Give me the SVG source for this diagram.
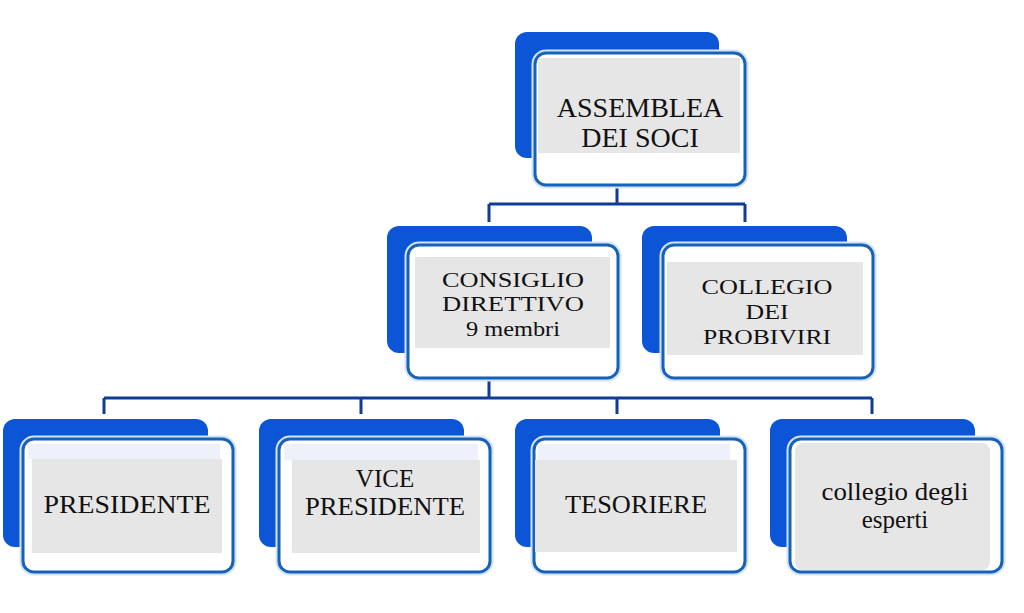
<svg xmlns="http://www.w3.org/2000/svg" width="1024" height="613" viewBox="0 0 1024 613">
<style>
.back{fill:#0b55d6}
.halo{fill:none;stroke:#d4e3f6;stroke-width:7}
.front{fill:#ffffff;stroke:#1662b6;stroke-width:3}
.gray{fill:#e6e6e6}
.tint{fill:#eef0fa}
.conn{fill:none;stroke:#0e3d93;stroke-width:3}
.t{font-family:"Liberation Serif","Times New Roman",serif;fill:#111;text-anchor:middle}
</style>
<rect width="1024" height="613" fill="#ffffff"/>
<g id="connectors">
<path class="conn" d="M617 185V204M489 204H745M489 204V222M745 204V222"/>
<path class="conn" d="M489 378V398M104 398H872M104 398V414M361 398V414M617 398V414M872 398V414"/>
</g>
<g id="assemblea">
<rect class="back" x="515" y="32" width="204" height="126" rx="12"/>
<rect class="halo" x="535" y="53" width="210" height="132" rx="11"/>
<rect class="front" x="535" y="53" width="210" height="132" rx="11"/>
<rect class="gray" x="538" y="58" width="202" height="95"/>
<text class="t" font-size="28" x="640" y="117">ASSEMBLEA</text>
<text class="t" font-size="28" x="640" y="147">DEI SOCI</text>
</g>
<g id="consiglio">
<rect class="back" x="387" y="226" width="205" height="127" rx="12"/>
<rect class="halo" x="408" y="245" width="210" height="133" rx="11"/>
<rect class="front" x="408" y="245" width="210" height="133" rx="11"/>
<rect class="gray" x="415" y="257" width="195" height="91"/>
<text class="t" font-size="22" x="513" y="287" textLength="142" lengthAdjust="spacingAndGlyphs">CONSIGLIO</text>
<text class="t" font-size="22" x="513" y="311" textLength="142" lengthAdjust="spacingAndGlyphs">DIRETTIVO</text>
<text class="t" font-size="20" x="513" y="336" textLength="94" lengthAdjust="spacingAndGlyphs">9 membri</text>
</g>
<g id="probiviri">
<rect class="back" x="642" y="226" width="205" height="127" rx="12"/>
<rect class="halo" x="663" y="245" width="210" height="133" rx="11"/>
<rect class="front" x="663" y="245" width="210" height="133" rx="11"/>
<rect class="gray" x="667" y="262" width="196" height="93"/>
<text class="t" font-size="22" x="767" y="294" textLength="131" lengthAdjust="spacingAndGlyphs">COLLEGIO</text>
<text class="t" font-size="22" x="767" y="319" textLength="43" lengthAdjust="spacingAndGlyphs">DEI</text>
<text class="t" font-size="22" x="767" y="344" textLength="128" lengthAdjust="spacingAndGlyphs">PROBIVIRI</text>
</g>
<g id="presidente">
<rect class="back" x="3" y="419" width="205" height="128" rx="12"/>
<rect class="halo" x="23" y="439" width="210" height="133" rx="11"/>
<rect class="front" x="23" y="439" width="210" height="133" rx="11"/>
<rect class="tint" x="28" y="444" width="192" height="15"/>
<rect class="gray" x="32" y="459" width="190" height="94"/>
<text class="t" font-size="26" x="127" y="513" textLength="167" lengthAdjust="spacingAndGlyphs">PRESIDENTE</text>
</g>
<g id="vicepresidente">
<rect class="back" x="259" y="419" width="205" height="128" rx="12"/>
<rect class="halo" x="279" y="439" width="211" height="133" rx="11"/>
<rect class="front" x="279" y="439" width="211" height="133" rx="11"/>
<rect class="tint" x="284" y="444" width="194" height="16"/>
<rect class="gray" x="292" y="460" width="188" height="93"/>
<text class="t" font-size="25" x="385" y="487">VICE</text>
<text class="t" font-size="25" x="385" y="515" textLength="160" lengthAdjust="spacingAndGlyphs">PRESIDENTE</text>
</g>
<g id="tesoriere">
<rect class="back" x="515" y="419" width="205" height="128" rx="12"/>
<rect class="halo" x="534" y="439" width="211" height="133" rx="11"/>
<rect class="front" x="534" y="439" width="211" height="133" rx="11"/>
<rect class="tint" x="538" y="444" width="192" height="16"/>
<rect class="gray" x="535" y="460" width="202" height="92"/>
<text class="t" font-size="25" x="636" y="513" textLength="142" lengthAdjust="spacingAndGlyphs">TESORIERE</text>
</g>
<g id="esperti">
<rect class="back" x="770" y="419" width="205" height="128" rx="12"/>
<rect class="halo" x="790" y="439" width="212" height="133" rx="11"/>
<rect class="front" x="790" y="439" width="212" height="133" rx="11"/>
<rect class="gray" x="795" y="443" width="195" height="127" rx="8"/>
<text class="t" font-size="25" x="895" y="500" textLength="147" lengthAdjust="spacingAndGlyphs">collegio degli</text>
<text class="t" font-size="25" x="895" y="528">esperti</text>
</g>
</svg>
